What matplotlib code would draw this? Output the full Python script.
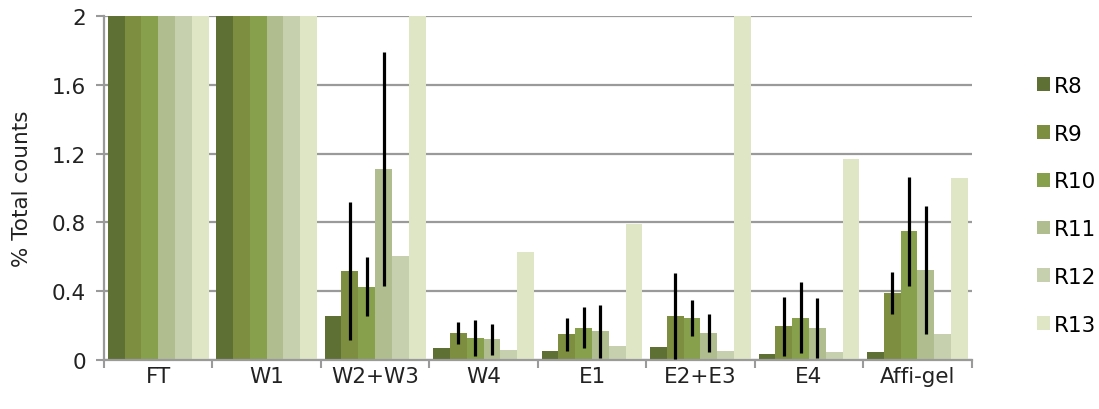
import numpy as np
import matplotlib
matplotlib.use("Agg")
import matplotlib.pyplot as plt

# ----------------------------------------------------------------------
# data — percent of total counts per fraction, six runs
# ----------------------------------------------------------------------

fractions = ["FT", "W1", "W2+W3", "W4", "E1", "E2+E3", "E4", "Affi-gel"]
runs = ["R8", "R9", "R10", "R11", "R12", "R13"]

R8  = [2.0, 2.0, 0.254, 0.068, 0.052, 0.074, 0.037, 0.045]
R9  = [2.0, 2.0, 0.516, 0.157, 0.149, 0.254, 0.196, 0.390]
R10 = [2.0, 2.0, 0.426, 0.128, 0.188, 0.246, 0.246, 0.748]
R11 = [2.0, 2.0, 1.110, 0.120, 0.167, 0.157, 0.188, 0.523]
R12 = [2.0, 2.0, 0.603, 0.060, 0.081, 0.052, 0.045, 0.151]
R13 = [2.0, 2.0, 2.000, 0.626, 0.790, 2.000, 1.170, 1.058]

# error bars only on R9–R11, for the fractions after W1
R9_err  = [0, 0, 0.400, 0.066, 0.095, 0.250, 0.170, 0.124]
R10_err = [0, 0, 0.170, 0.105, 0.118, 0.105, 0.205, 0.316]
R11_err = [0, 0, 0.680, 0.088, 0.155, 0.108, 0.175, 0.370]

values = [R8, R9, R10, R11, R12, R13]
errors = [None, R9_err, R10_err, R11_err, None, None]
colors = ["#5E7034", "#7D8E40", "#87A04B", "#B0BD8E", "#C6CFAE", "#DFE6C6"]

# ----------------------------------------------------------------------
# plot
# ----------------------------------------------------------------------

plt.rcParams['font.family'] = ['DejaVu Sans']
FS = 15.5
TXT = "#222222"
AXC = "#9A9A9A"

fig = plt.figure(figsize=(10.99, 4.10), dpi=100)
ax = fig.add_axes([0.0946, 0.1195, 0.7895, 0.839])

x = np.arange(len(fractions))
bar_w = 0.155
offsets = (np.arange(len(runs)) - (len(runs) - 1) / 2) * bar_w

for vals, errs, color, name, off in zip(values, errors, colors, runs, offsets):
    ax.bar(x + off, vals, width=bar_w, color=color, label=name, zorder=2,
           linewidth=0)
    if errs is not None:
        idx = [i for i, e in enumerate(errs) if e > 0]
        ax.errorbar(x[idx] + off, np.array(vals)[idx], yerr=np.array(errs)[idx],
                    fmt='none', ecolor='black', elinewidth=2.3, capsize=0,
                    zorder=3)

ax.set_xlim(-0.5, len(fractions) - 0.5)
ax.set_ylim(0, 2)
ax.set_yticks([0, 0.4, 0.8, 1.2, 1.6, 2])
ax.set_yticklabels(["0", "0.4", "0.8", "1.2", "1.6", "2"])
ax.set_ylabel("% Total counts", fontsize=FS, color=TXT)
ax.yaxis.set_label_coords(-0.083, 0.5)

ax.yaxis.grid(True, color=AXC, linewidth=1.6, zorder=0)
ax.set_axisbelow(True)

ax.set_xticks(x)
ax.set_xticklabels(fractions)
ax.tick_params(axis='x', length=0, labelsize=FS, pad=4, colors=TXT)
ax.set_xticks(np.arange(len(fractions) + 1) - 0.5, minor=True)
ax.tick_params(axis='x', which='minor', length=6, width=1.5, color=AXC)
ax.tick_params(axis='y', length=6, width=1.5, color=AXC,
               labelsize=FS, labelcolor=TXT, pad=7)

for side in ['top', 'right']:
    ax.spines[side].set_visible(False)
for side in ['left', 'bottom']:
    ax.spines[side].set_color(AXC)
    ax.spines[side].set_linewidth(1.6)

leg = ax.legend(loc='center left', bbox_to_anchor=(1.063, 0.45), frameon=False,
                fontsize=FS, handlelength=0.6, handleheight=0.6,
                handletextpad=0.2, labelspacing=1.29, borderpad=0)

fig.savefig("out.png", dpi=100)
